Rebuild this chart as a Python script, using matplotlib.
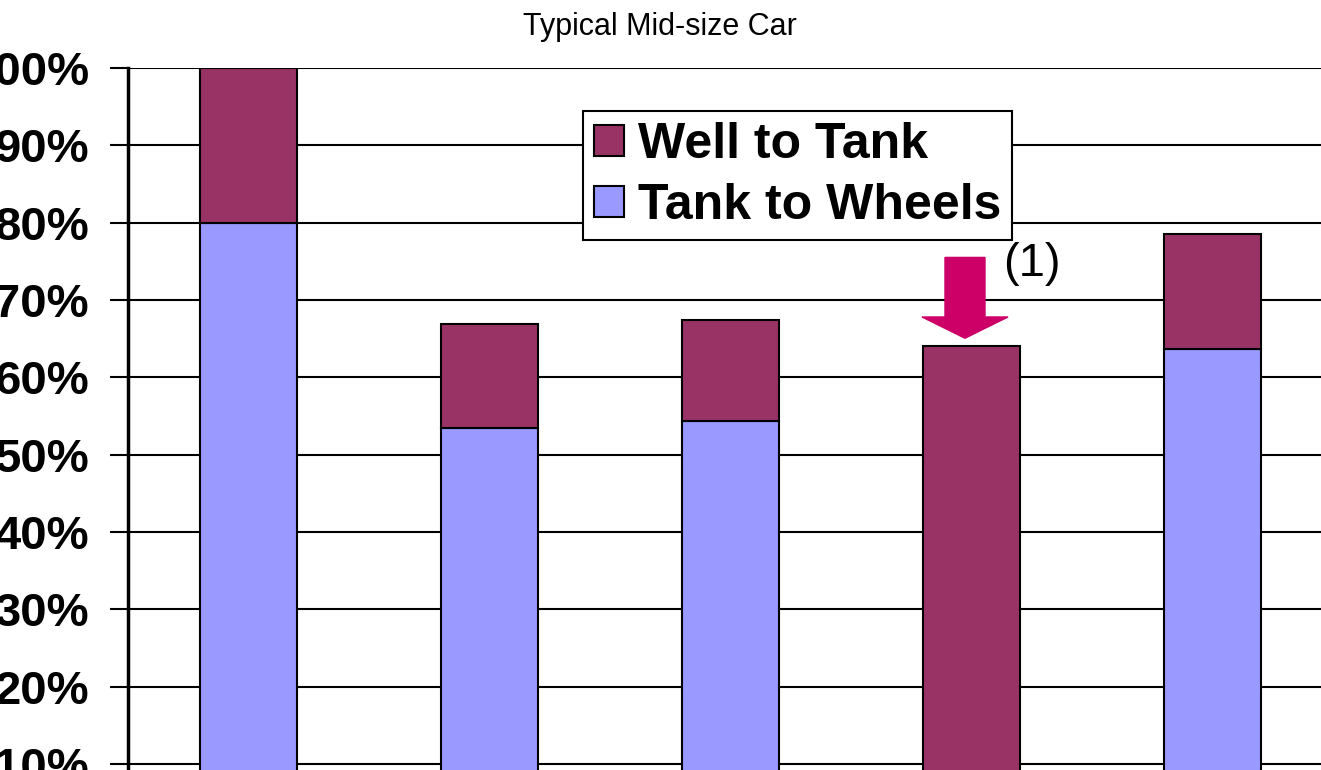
import matplotlib
matplotlib.use("Agg")
import matplotlib.pyplot as plt
from matplotlib.patches import FancyArrow, Patch
import numpy as np

plt.rcParams['font.family'] = ['Liberation Sans', 'DejaVu Sans']

# values (percent)
positions = [0, 1, 2, 3, 4]
tank_to_wheels = [80.0, 53.4, 54.4, 0.0, 63.6]
well_to_tank = [20.0, 13.5, 13.0, 64.0, 14.9]
y_ticks = [0, 10, 20, 30, 40, 50, 60, 70, 80, 90, 100]
y_labels = [f"{v}%" for v in y_ticks]

c_wtt = '#993366'
c_ttw = '#9999FF'

fig = plt.figure(figsize=(13.21, 7.70), dpi=100)
ax = fig.add_axes([128 / 1321, -0.0925, 1205 / 1321, 1.0042])

ax.bar(positions, tank_to_wheels, width=0.4, color=c_ttw, edgecolor='black', linewidth=1.5, zorder=3)
ax.bar(positions, well_to_tank, width=0.4, bottom=tank_to_wheels, color=c_wtt, edgecolor='black', linewidth=1.5, zorder=3)

ax.set_xlim(-0.5, 4.5)
ax.set_ylim(0, 100)
ax.set_yticks(y_ticks)
ax.set_yticklabels(y_labels, fontsize=34, fontweight='bold')
ax.set_xticks([])
ax.tick_params(axis='y', length=13, width=1.5, pad=15, direction='out')
ax.yaxis.grid(True, color='black', linewidth=1.5, zorder=0)
ax.set_axisbelow(True)
for s in ['top', 'right']:
    ax.spines[s].set_visible(False)
ax.spines['left'].set_linewidth(2.5)

# arrow pointing at the 4th bar
arr = FancyArrow(2.973, 75.5, 0, -10.45, width=0.166, head_width=0.357, head_length=2.75,
                 length_includes_head=True, color='#CC0066', zorder=4)
ax.add_patch(arr)
ax.text(3.25, 74.6, "(1)", fontsize=34, va='center', ha='center', zorder=5)

handles = [Patch(facecolor=c_wtt, edgecolor='black', linewidth=1.5),
           Patch(facecolor=c_ttw, edgecolor='black', linewidth=1.5)]
leg = fig.legend(handles, ['Well to Tank', 'Tank to Wheels'], loc='upper left',
                 bbox_to_anchor=(583 / 1321, 1 - 111 / 770), prop={'size': 36, 'weight': 'bold'},
                 frameon=True, fancybox=False, edgecolor='black', framealpha=1,
                 handlelength=0.6, handleheight=0.56, handletextpad=0.28, labelspacing=0.3,
                 borderpad=0.22, borderaxespad=0)
leg.get_frame().set_linewidth(1.5)

fig.text(660 / 1321, 1 - 27 / 770, "Typical Mid-size Car", fontsize=22, ha='center', va='center')

fig.savefig('out.png', dpi=100)
